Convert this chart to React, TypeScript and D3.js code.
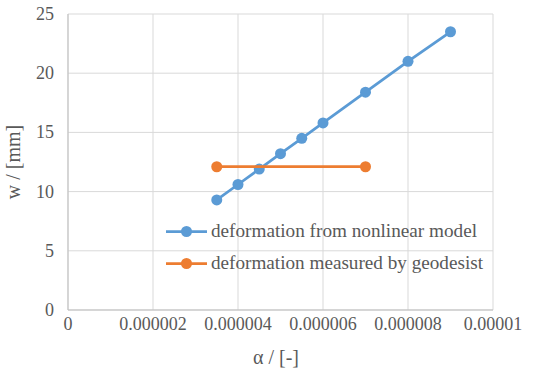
import React, { useLayoutEffect } from "react";
import * as d3 from "d3";

const modelAlpha = [0.0000035, 0.000004, 0.0000045, 0.000005, 0.0000055, 0.000006, 0.000007, 0.000008, 0.000009];
const modelW = [9.3, 10.6, 11.9, 13.2, 14.5, 15.8, 18.4, 21.0, 23.5];
const geoAlpha = [0.0000035, 0.000007];
const geoW = [12.1, 12.1];
const xTicks = [0, 0.000002, 0.000004, 0.000006, 0.000008, 0.00001];
const xTickLabels = ["0", "0.000002", "0.000004", "0.000006", "0.000008", "0.00001"];
const yTicks = [0, 5, 10, 15, 20, 25];
const seriesNames = ["deformation from nonlinear model", "deformation measured by geodesist"];
const colors = ["#5B9BD5", "#ED7D31"];

const FF = "Liberation Serif";

export default function App() {
  useLayoutEffect(() => {
    document.body.style.margin = "0";
  }, []);
  const W = 541, H = 376;
  const x = d3.scaleLinear().domain([0, 0.00001]).range([68, 493]);
  const y = d3.scaleLinear().domain([0, 25]).range([310, 14]);
  const line = d3.line<[number, number]>().x(d => x(d[0])).y(d => y(d[1]));
  const series = [
    { a: modelAlpha, w: modelW },
    { a: geoAlpha, w: geoW },
  ];
  const txt = "#595959";
  const legendLen = [266, 272];
  return (
    <svg width={W} height={H}>
      <rect width={W} height={H} fill="#fff" />
      {xTicks.map((t, i) => (
        <line key={"gx" + i} x1={x(t)} x2={x(t)} y1={y(25)} y2={y(0)} stroke="#d9d9d9" strokeWidth={1} />
      ))}
      {yTicks.map((t, i) => (
        <line key={"gy" + i} x1={x(0)} x2={x(0.00001)} y1={y(t)} y2={y(t)} stroke="#d9d9d9" strokeWidth={1} />
      ))}
      <line x1={x(0)} x2={x(0)} y1={y(25)} y2={y(0)} stroke="#bfbfbf" />
      <line x1={x(0)} x2={x(0.00001)} y1={y(0)} y2={y(0)} stroke="#bfbfbf" />
      {yTicks.map((t, i) => (
        <text key={"ty" + i} fontFamily={FF} x={54} y={y(t) + 6} textAnchor="end" fontSize={18} fill={txt}>{String(t)}</text>
      ))}
      {xTicks.map((t, i) => (
        <text key={"tx" + i} fontFamily={FF} x={x(t)} y={330} textAnchor="middle" fontSize={18} fill={txt}>{xTickLabels[i]}</text>
      ))}
      <text fontFamily={FF} x={276} y={364} textAnchor="middle" fontSize={20} fill={txt}>α / [-]</text>
      <text fontFamily={FF} transform={`translate(20,162) rotate(-90)`} textAnchor="middle" fontSize={20} fill={txt}>w / [mm]</text>
      {series.map((s, si) => {
        const pts = s.a.map((a, i) => [a, s.w[i]] as [number, number]);
        return (
          <g key={"s" + si}>
            <path d={line(pts) || ""} fill="none" stroke={colors[si]} strokeWidth={2.75} />
            {pts.map((p, i) => (
              <circle key={i} cx={x(p[0])} cy={y(p[1])} r={5.5} fill={colors[si]} />
            ))}
          </g>
        );
      })}
      {seriesNames.map((n, i) => {
        const ly = 231.5 + i * 32;
        return (
          <g key={"l" + i}>
            <line x1={166} x2={207} y1={ly} y2={ly} stroke={colors[i]} strokeWidth={2.75} />
            <circle cx={186.5} cy={ly} r={5.5} fill={colors[i]} />
            <text fontFamily={FF} x={211} y={ly + 5} fontSize={19} fill={txt} textLength={legendLen[i]} lengthAdjust="spacingAndGlyphs">{n}</text>
          </g>
        );
      })}
    </svg>
  );
}
